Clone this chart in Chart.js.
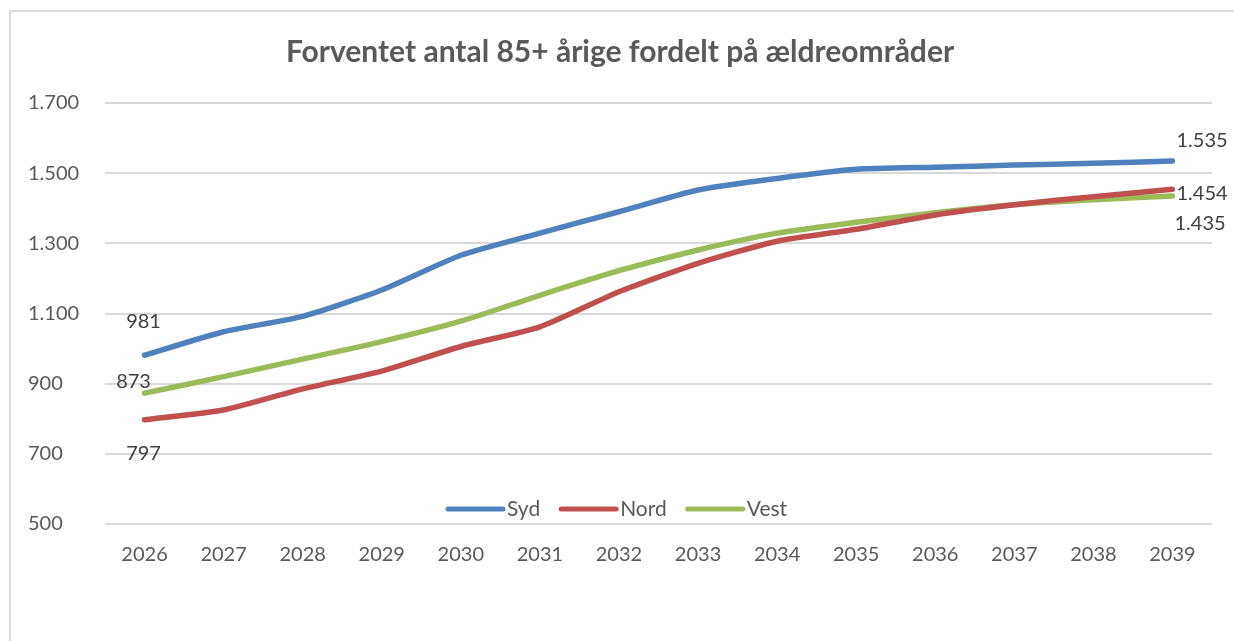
<!DOCTYPE html>
<html>
<head>
<meta charset="utf-8">
<script src="https://cdn.jsdelivr.net/npm/chart.js@4.4.1/dist/chart.umd.min.js"></script>
<style>
  html, body { margin: 0; padding: 0; background: #fff; }
  #wrap { width: 1234px; height: 641px; position: relative; }
</style>
</head>
<body>
<div id="wrap"><canvas id="chart" width="1234" height="641"></canvas></div>
<script>
const years = ['2026', '2027', '2028', '2029', '2030', '2031', '2032', '2033', '2034', '2035', '2036', '2037', '2038', '2039'];
const syd  = [981, 1048, 1092, 1167, 1266, 1329, 1390, 1452, 1485, 1511, 1517, 1523, 1528, 1535];
const nord = [797, 825, 885, 936, 1006, 1062, 1162, 1243, 1306, 1340, 1381, 1410, 1433, 1454];
const vest = [873, 920, 970, 1020, 1078, 1152, 1222, 1281, 1329, 1360, 1387, 1410, 1424, 1435];
const yTicks = [500, 700, 900, 1100, 1300, 1500, 1700];

const fmt = (v) => String(v).replace(/\B(?=(\d{3})+(?!\d))/g, '.');
const textColor = '#595959';

// where the value labels sit next to the first / last point of each line
const labelSpots = {
  0: [{ i: 0, dx: -1, dy: -34, align: 'center' }, { i: 13, dx: 4, dy: -20, align: 'left' }],
  1: [{ i: 0, dx: -1, dy: 34, align: 'center' }, { i: 13, dx: 4, dy: 4, align: 'left' }],
  2: [{ i: 0, dx: -11, dy: -12, align: 'center' }, { i: 13, dx: 2, dy: 28, align: 'left' }]
};

const frame = {
  id: 'frame',
  beforeDraw(chart) {
    const ctx = chart.ctx;
    ctx.save();
    ctx.fillStyle = '#fff';
    ctx.fillRect(0, 0, chart.width, chart.height);
    ctx.strokeStyle = '#d9d9d9';
    ctx.lineWidth = 2;
    ctx.beginPath();
    ctx.moveTo(10, chart.height);
    ctx.lineTo(10, 11);
    ctx.lineTo(chart.width, 11);
    ctx.stroke();
    ctx.restore();
  }
};

const valueLabels = {
  id: 'valueLabels',
  afterDatasetsDraw(chart) {
    const ctx = chart.ctx;
    ctx.save();
    ctx.font = '20px Lato';
    ctx.fillStyle = '#404040';
    ctx.textBaseline = 'middle';
    chart.data.datasets.forEach((ds, d) => {
      const meta = chart.getDatasetMeta(d);
      (labelSpots[d] || []).forEach(s => {
        const pt = meta.data[s.i];
        ctx.textAlign = s.align;
        ctx.fillText(fmt(ds.data[s.i]), pt.x + s.dx, pt.y + s.dy);
      });
    });
    ctx.restore();
  }
};

const innerLegend = {
  id: 'innerLegend',
  afterDatasetsDraw(chart) {
    const ctx = chart.ctx;
    const y = chart.chartArea.bottom - 15;
    let x = 448;
    ctx.save();
    ctx.font = '21px Lato';
    ctx.textBaseline = 'middle';
    ctx.textAlign = 'left';
    chart.data.datasets.forEach(ds => {
      ctx.strokeStyle = ds.borderColor;
      ctx.lineWidth = 5;
      ctx.lineCap = 'round';
      ctx.beginPath();
      ctx.moveTo(x, y);
      ctx.lineTo(x + 55, y);
      ctx.stroke();
      ctx.fillStyle = textColor;
      ctx.fillText(ds.label, x + 59, y);
      x += 59 + ctx.measureText(ds.label).width + 21;
    });
    ctx.restore();
  }
};

const lineStyle = {
  borderWidth: 5.5,
  pointRadius: 0,
  tension: 0.2,
  borderCapStyle: 'round',
  borderJoinStyle: 'round',
  fill: false
};

new Chart(document.getElementById('chart'), {
  type: 'line',
  data: {
    labels: years,
    datasets: [
      { label: 'Syd', data: syd, borderColor: '#4f81bd', backgroundColor: '#4f81bd', ...lineStyle },
      { label: 'Nord', data: nord, borderColor: '#c0504d', backgroundColor: '#c0504d', ...lineStyle },
      { label: 'Vest', data: vest, borderColor: '#9bbb59', backgroundColor: '#9bbb59', ...lineStyle }
    ]
  },
  options: {
    responsive: false,
    animation: false,
    layout: { padding: { left: 28, right: 22, top: 0, bottom: 55 } },
    plugins: {
      legend: { display: false },
      tooltip: { enabled: false },
      title: {
        display: true,
        text: 'Forventet antal 85+ årige fordelt på ældreområder',
        color: textColor,
        font: { family: 'Lato', size: 30, weight: 'bold', lineHeight: 1.2 },
        padding: { top: 34, bottom: 33 }
      }
    },
    scales: {
      x: {
        offset: true,
        grid: { display: false, drawTicks: false },
        border: { display: false },
        ticks: { color: textColor, font: { family: 'Lato', size: 20 }, padding: 19, maxRotation: 0 }
      },
      y: {
        min: 500,
        max: 1700,
        afterBuildTicks: (scale) => { scale.ticks = yTicks.map(v => ({ value: v })); },
        afterFit: (scale) => { scale.width = 77; },
        grid: { color: '#d9d9d9', lineWidth: 2, drawTicks: false },
        border: { display: false },
        ticks: {
          color: textColor,
          font: { family: 'Lato', size: 20 },
          crossAlign: 'far',
          callback: (v) => fmt(v)
        }
      }
    }
  },
  plugins: [frame, valueLabels, innerLegend]
});
</script>
</body>
</html>
